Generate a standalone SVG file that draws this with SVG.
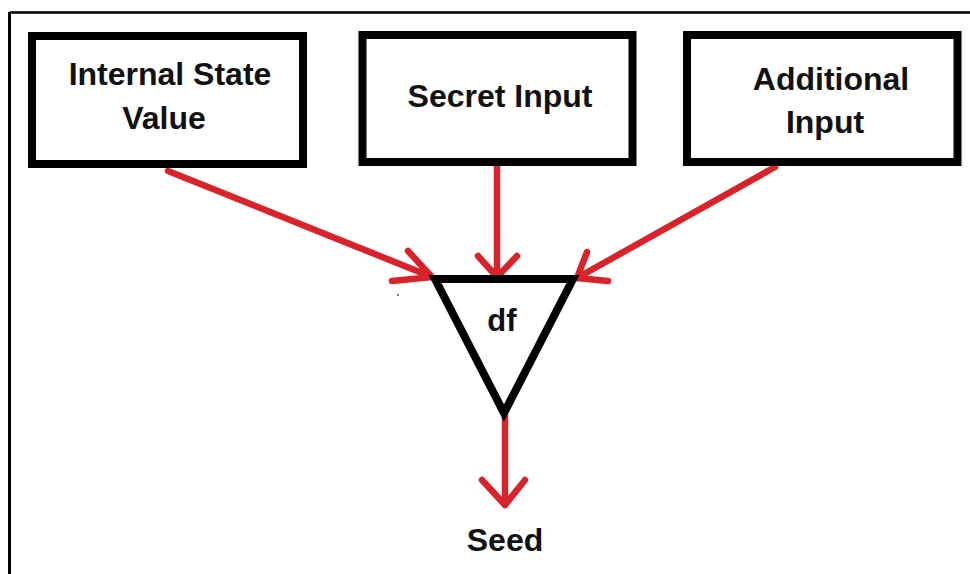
<svg xmlns="http://www.w3.org/2000/svg" width="970" height="574" viewBox="0 0 970 574">
<style>
.box{fill:#fff;stroke:#000;stroke-width:8}
.lbl{font-family:"Liberation Sans",Arial,sans-serif;font-weight:bold;font-size:32px;fill:#111;text-anchor:middle}
.arr{fill:none;stroke:#d8232a;stroke-width:6.5;stroke-linecap:round;stroke-linejoin:round}
</style>
<rect width="970" height="574" fill="#fff"/>
<g id="frame" fill="none" stroke="#000">
<line x1="9.5" y1="12.5" x2="970" y2="12.5" stroke-width="2.5"/>
<line x1="9.5" y1="12" x2="9.5" y2="574" stroke-width="3"/>
</g>
<g id="connectors">
<path class="arr" d="M168,171 L432,277 M408,251 L432,277 L392,281"/>
<path class="arr" d="M497,167 L497,277 M478,256 L497,277 L517,256"/>
<path class="arr" d="M775,167 L577,278 M587,252 L577,278 L608,281"/>
<path class="arr" d="M505,415 L505,505 M482,480 L505,505 L525,480"/>
</g>
<g id="internal-state">
<rect class="box" x="32" y="36" width="271" height="128"/>
<text class="lbl" x="170" y="85">Internal State</text>
<text class="lbl" x="164" y="129">Value</text>
</g>
<g id="secret-input">
<rect class="box" x="362.5" y="35" width="270" height="127"/>
<text class="lbl" x="500" y="107">Secret Input</text>
</g>
<g id="additional-input">
<rect class="box" x="687" y="35" width="270.5" height="127"/>
<text class="lbl" x="831" y="90">Additional</text>
<text class="lbl" x="825" y="133">Input</text>
</g>
<g id="df">
<polygon points="435,279 573,279 504,413" fill="none" stroke="#000" stroke-width="8" stroke-linejoin="miter"/>
<text class="lbl" x="502" y="331" style="font-size:31px">df</text>
</g>
<g id="seed">
<text class="lbl" x="505" y="551">Seed</text>
</g>
<circle cx="398" cy="295" r="1" fill="#555"/>
</svg>
